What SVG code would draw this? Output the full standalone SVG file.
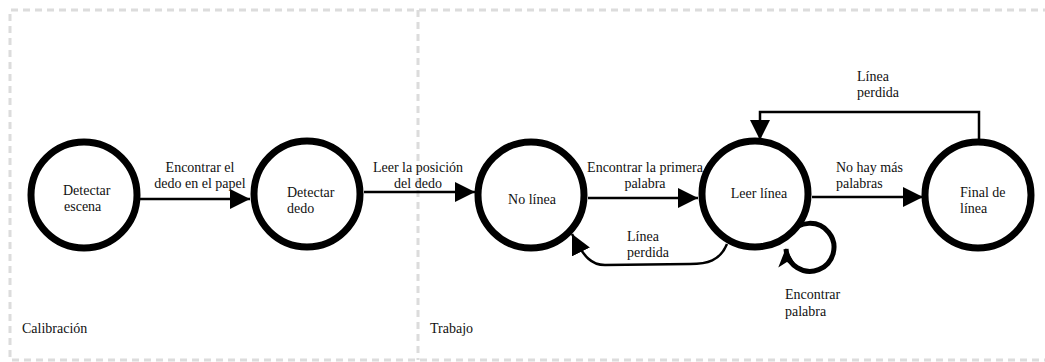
<svg xmlns="http://www.w3.org/2000/svg" width="1045" height="362" viewBox="0 0 1045 362">
<style>
.lane{fill:none;stroke:#dcdcdc;stroke-width:3;stroke-dasharray:7 5}
.st{fill:#fff;stroke:#000;stroke-width:7}
.e{fill:none;stroke:#000;stroke-width:2.5}
text{font-family:'Liberation Serif','DejaVu Serif',serif;font-size:14px;fill:#111}
.c{text-anchor:middle}
</style>
<defs>
<marker id="ah" markerUnits="userSpaceOnUse" markerWidth="21" markerHeight="21" refX="20" refY="10" orient="auto" viewBox="0 0 21 21">
<path d="M0,0 L20,10 L0,20 Z" fill="#000"/>
</marker>
<marker id="ahs" markerUnits="userSpaceOnUse" markerWidth="21" markerHeight="21" refX="18" refY="10" orient="auto" viewBox="0 0 21 21">
<path d="M0,1 L19,10 L0,19 L5,10 Z" fill="#000"/>
</marker>
</defs>
<rect x="0" y="0" width="1045" height="362" fill="#fff"/>
<g id="lanes" font-family="Liberation Serif, serif">
<path class="lane" d="M1050 10 L10 10 L10 360 L1050 360"/>
<line class="lane" x1="418" y1="10" x2="418" y2="360"/>
<text x="22" y="333">Calibración</text>
<text x="430" y="333">Trabajo</text>
</g>
<g id="connectors" font-family="Liberation Serif, serif">
<line class="e" x1="140" y1="199" x2="250" y2="199" marker-end="url(#ah)"/>
<text class="c" x="200" y="172">Encontrar el</text>
<text class="c" x="200" y="188">dedo en el papel</text>
<line class="e" x1="364" y1="192" x2="475" y2="192" marker-end="url(#ah)"/>
<text class="c" x="418" y="172">Leer la posición</text>
<text class="c" x="418" y="188">del dedo</text>
<line class="e" x1="588" y1="198" x2="698" y2="198" marker-end="url(#ah)"/>
<text class="c" x="645" y="172">Encontrar la primera</text>
<text class="c" x="645" y="188">palabra</text>
<path class="e" d="M727 244 C720 261 707 264 690 264 L605 265 C592 265 584 258 572 234" marker-end="url(#ah)"/>
<text x="627" y="241">Línea</text>
<text x="627" y="257">perdida</text>
<path fill="none" stroke="#000" stroke-width="5" d="M790 234 A24 24 0 1 1 786 249" marker-end="url(#ahs)"/>
<text x="785" y="299">Encontrar</text>
<text x="785" y="316">palabra</text>
<line class="e" x1="812" y1="197" x2="923" y2="197" marker-end="url(#ah)"/>
<text x="836" y="172">No hay más</text>
<text x="836" y="188">palabras</text>
<path class="e" d="M979 140 L979 112 L760 112 L760 140" marker-end="url(#ah)"/>
<text x="857" y="81">Línea</text>
<text x="857" y="97">perdida</text>
</g>
<g id="detectar-escena" font-family="Liberation Serif, serif">
<circle class="st" cx="84" cy="195" r="53"/>
<text x="63" y="195">Detectar</text>
<text x="64" y="211">escena</text>
</g>
<g id="detectar-dedo" font-family="Liberation Serif, serif">
<circle class="st" cx="307" cy="194" r="53"/>
<text x="287" y="197">Detectar</text>
<text x="287" y="213">dedo</text>
</g>
<g id="no-linea" font-family="Liberation Serif, serif">
<circle class="st" cx="531" cy="195" r="53"/>
<text class="c" x="532" y="204">No línea</text>
</g>
<g id="leer-linea" font-family="Liberation Serif, serif">
<circle class="st" cx="755" cy="194" r="53"/>
<text class="c" x="759" y="198">Leer línea</text>
</g>
<g id="final-de-linea" font-family="Liberation Serif, serif">
<circle class="st" cx="978" cy="195" r="53"/>
<text x="960" y="197">Final de</text>
<text x="960" y="213">línea</text>
</g>
</svg>
